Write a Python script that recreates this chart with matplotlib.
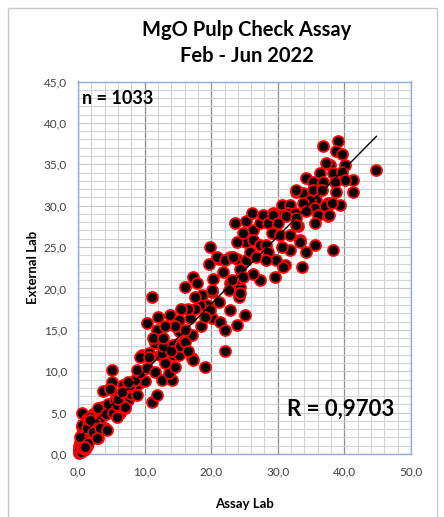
import matplotlib
matplotlib.use("Agg")
import matplotlib.pyplot as plt
import numpy as np
from matplotlib.patches import Rectangle

plt.rcParams['font.family'] = ['Lato', 'DejaVu Sans']

title = "MgO Pulp Check Assay\nFeb - Jun 2022"
x_label = "Assay Lab"
y_label = "External Lab"
n_text = "n = 1033"
r_text = "R = 0,9703"

x_ticks = [0, 10, 20, 30, 40, 50]
y_ticks = [0, 5, 10, 15, 20, 25, 30, 35, 40, 45]

assay_lab = [
    0.1, 0.2, 0.3, 0.4, 0.5, 0.3, 0.6, 0.8, 1.0, 1.2, 0.7, 1.5, 1.0, 1.8, 2.0, 2.5, 0.55, 1.2, 0.9, 1.5,
    2.2, 0.2, 0.4, 0.6, 1.3, 2.0, 2.8, 3.0, 0.2, 0.3, 0.1, 0.5, 0.6, 0.4, 0.7, 0.9, 1.1, 0.8, 1.2, 1.6,
    2.0, 1.0, 1.4, 0.3, 0.6, 1.5, 2.5, 2.2, 3.2, 3.5, 1.3, 2.55, 2.8, 3.55, 4.55, 4.05, 3.05, 1.55, 0.8, 3.05,
    1.8, 2.3, 3.3, 4.3, 3.05, 1.8, 2.8, 1.05,
    4.2, 4.5, 5.2, 5.5, 6.2, 7.0, 7.5, 8.0, 8.5, 9.0, 9.5, 10.0, 6.8, 5.8, 3.8, 4.8, 6.3, 5.8, 7.1, 6.3,
    7.55, 8.8, 11.1, 11.8, 5.8, 7.05, 6.05, 6.55, 7.8, 8.55, 9.3, 8.8, 10.3, 11.55, 12.6, 14.1, 13.6, 14.6, 9.55, 10.6,
    12.3, 13.1, 14.3, 15.1, 11.55, 14.6, 15.6, 5.06, 4.8, 7.55, 5.06, 9.3, 10.6, 12.6, 12.8, 14.3,
    11.1, 10.3, 11.8, 11.3, 12.8, 13.8, 15.1, 16.8, 17.1, 15.1, 15.3, 17.1, 19.1, 17.3, 16.1, 17.3, 17.8, 20.3, 19.6, 18.6,
    20.1, 19.3, 18.3, 21.1, 20.1, 19.8, 21.3, 22.8, 22.1, 23.8, 22.1, 22.8, 24.1, 24.3, 24.1, 21.8, 21.1, 22.8, 23.8, 25.1,
    16.0, 17.5, 18.5, 19.0, 16.5, 15.5, 17.5, 14.5, 16.0, 13.0, 12.0, 14.0, 16.5,
    19.8, 20.8, 22.1, 23.3, 23.6, 25.3, 26.3, 27.3, 27.8, 29.3, 30.6, 31.8, 30.8, 31.6, 32.6, 32.8, 33.8, 35.6, 25.3, 26.3,
    27.3, 28.3, 29.1, 30.3, 31.8, 33.3, 33.1, 31.8, 34.3, 35.6, 33.6, 31.1, 29.8, 29.6, 27.3, 26.3, 25.3, 24.3, 24.8, 23.1,
    22.6, 24.3, 20.1, 28.6, 30.6, 25.8, 26.8, 28.3, 23.8, 24.8, 26.1, 28.6,
    36.8, 39.1, 38.8, 39.6, 44.8, 40.1, 37.8, 36.3, 38.3, 39.6, 41.3, 41.3, 40.1, 34.3, 35.3, 36.8, 38.6, 32.8, 35.3, 36.6,
    38.8, 35.8, 37.6, 39.3, 34.8, 33.8, 35.6, 37.1, 38.1, 36.1, 37.6, 35.6, 29.3, 31.3, 32.8, 34.3, 32.8, 30.1,
    38.3, 30.8, 33.3, 37.7, 37.3,
]
external_lab = [
    0.2, 0.5, 0.3, 0.8, 1.0, 1.5, 1.8, 1.2, 2.0, 2.5, 2.8, 3.0, 3.5, 2.2, 3.5, 2.8, 5.0, 1.0, 0.5, 1.5,
    2.0, 1.0, 2.2, 3.3, 4.2, 4.5, 3.3, 4.0, 0.1, 0.4, 0.6, 0.3, 0.7, 1.2, 1.5, 2.0, 1.4, 2.6, 3.2, 2.4,
    2.8, 0.6, 1.0, 2.0, 3.5, 4.0, 3.2, 4.8, 3.8, 4.5, 3.1, 3.7, 5.1, 5.7, 5.5, 3.1, 1.9, 1.3, 0.9, 5.3,
    4.5, 2.7, 3.1, 2.9, 5.5, 4.1, 1.9, 0.9,
    4.8, 6.0, 5.0, 6.5, 7.0, 7.5, 6.5, 7.2, 8.0, 8.5, 9.0, 8.8, 8.3, 7.0, 7.6, 8.0, 4.9, 4.5, 5.5, 6.3,
    8.1, 7.1, 6.3, 7.1, 5.9, 5.7, 6.7, 7.5, 8.3, 8.9, 9.75, 10.1, 10.35, 9.9, 8.9, 8.9, 9.75, 10.5, 12.0, 12.2,
    12.0, 10.95, 12.0, 12.0, 13.4, 13.2, 13.4, 8.7, 7.9, 8.7, 10.2, 11.75, 11.75, 12.2, 13.0, 13.2,
    19.0, 15.8, 15.0, 14.0, 14.0, 16.8, 16.2, 16.4, 14.4, 14.8, 13.0, 11.6, 10.5, 11.4, 20.2, 21.4, 20.6, 21.2, 23.0, 19.2,
    19.6, 18.0, 18.0, 18.4, 16.4, 17.4, 16.0, 17.4, 15.0, 15.6, 12.5, 20.6, 19.0, 20.2, 21.2, 22.0, 23.6, 23.8, 23.6, 16.8,
    15.0, 17.5, 15.5, 16.5, 17.5, 17.5, 19.0, 15.5, 13.5, 15.5, 16.5, 12.5, 12.5,
    25.0, 23.8, 23.4, 23.8, 27.9, 28.1, 27.1, 27.9, 28.9, 29.1, 30.1, 30.1, 28.9, 29.1, 29.1, 31.7, 31.5, 30.7, 25.6, 25.8,
    25.2, 25.2, 26.7, 26.4, 26.4, 25.8, 27.5, 24.6, 24.4, 25.2, 22.6, 22.8, 23.4, 21.4, 21.0, 21.8, 23.4, 22.4, 21.4, 21.0,
    19.8, 19.4, 19.8, 24.4, 25.0, 24.4, 23.8, 23.4, 25.6, 26.7, 29.1, 27.9,
    37.2, 37.8, 36.6, 36.3, 34.3, 34.9, 34.9, 33.9, 33.9, 34.1, 33.1, 31.7, 33.1, 33.3, 32.9, 32.9, 32.9, 31.9, 31.9, 31.9,
    31.7, 30.7, 30.3, 30.1, 30.7, 30.3, 29.7, 29.9, 30.3, 28.9, 28.7, 27.9, 28.9, 28.7, 28.5, 29.3, 27.7, 27.9,
    24.6, 22.6, 25.6, 28.9, 35.1,
]

W, H = 444, 517
fig = plt.figure(figsize=(W / 100, H / 100), dpi=100)

# chart-area border
fig.patches.append(Rectangle((8 / W, -0.01), (437 - 8) / W, (H - 8) / H + 0.01,
                             transform=fig.transFigure, fill=False,
                             edgecolor='#c8c8c8', linewidth=1.0))

ax = fig.add_axes([78 / W, (H - 454) / H, (411 - 78) / W, (454 - 81.5) / H])

ax.set_xlim(0, 50)
ax.set_ylim(0, 45)
ax.set_xticks(x_ticks)
ax.set_yticks(y_ticks)
ax.set_xticklabels([f"{v:.1f}".replace('.', ',') for v in x_ticks])
ax.set_yticklabels([f"{v:.1f}".replace('.', ',') for v in y_ticks])
ax.set_xticks(np.arange(0, 51, 2), minor=True)
ax.set_yticks(np.arange(0, 46, 1), minor=True)
ax.tick_params(which='both', length=0, labelsize=8.5, labelcolor='#404040')
ax.tick_params(axis='x', pad=9)
ax.tick_params(axis='y', pad=8)

ax.grid(which='minor', color='#d4d4d4', linewidth=0.8)
ax.grid(which='major', axis='y', color='#c8c8c8', linewidth=0.8)
ax.grid(which='major', axis='x', color='#8c8c8c', linewidth=0.9)
ax.set_axisbelow(True)
for s in ax.spines.values():
    s.set_color('#8faadc')
    s.set_linewidth(1.0)

xa = np.array(assay_lab)
ya = np.array(external_lab)
ax.scatter(xa, ya, s=62, facecolor='black', edgecolor='#ff0000', linewidths=1.3,
           zorder=3, clip_on=False)

slope, intercept = np.polyfit(xa, ya, 1)
xl = np.array([xa.min(), xa.max()])
ax.plot(xl, slope * xl + intercept, color='black', linewidth=1.0, zorder=4)

ax.text(0.013, 0.955, n_text, transform=ax.transAxes, fontsize=13, fontweight='bold',
        ha='left', va='center', color='black')
ax.text(0.95, 0.12, r_text, transform=ax.transAxes, fontsize=16, fontweight='bold',
        ha='right', va='center', color='black', zorder=5)

fig.text(247 / W, 1 - 43 / H, title, ha='center', va='center', fontsize=14.5,
         fontweight='bold', linespacing=1.4)
ax.set_xlabel(x_label, fontsize=9.5, fontweight='bold', labelpad=15)
ax.set_ylabel(y_label, fontsize=9.5, fontweight='bold', labelpad=3)

fig.savefig("out.png", dpi=100)
